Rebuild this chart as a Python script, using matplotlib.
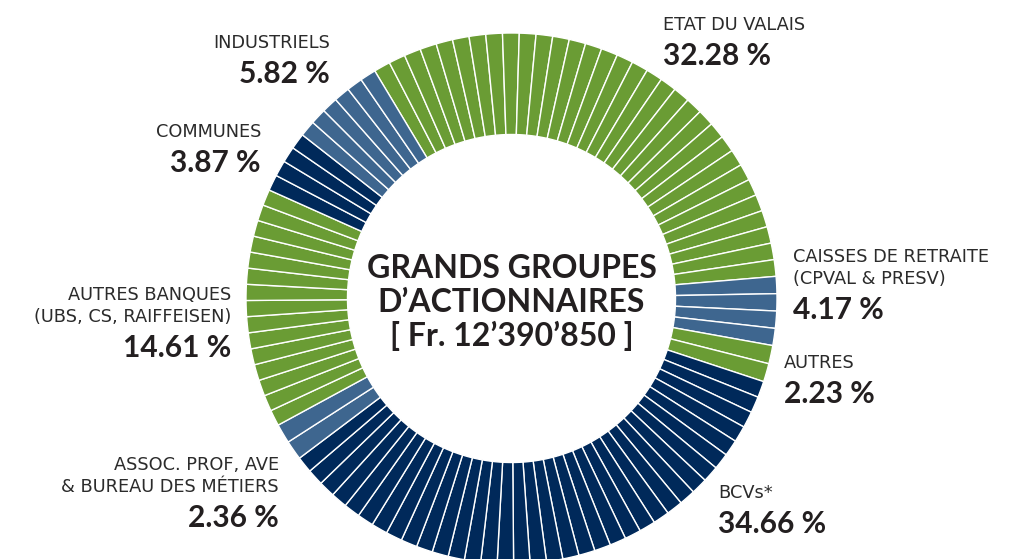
import matplotlib
matplotlib.use("Agg")
import matplotlib.pyplot as plt

# shareholder groups, clockwise from the upper left
groups = ["ETAT DU VALAIS", "CAISSES DE RETRAITE\n(CPVAL & PRESV)", "AUTRES",
          "BCVs*", "ASSOC. PROF, AVE\n& BUREAU DES MÉTIERS",
          "AUTRES BANQUES\n(UBS, CS, RAIFFEISEN)", "COMMUNES", "INDUSTRIELS"]
shares = [32.28, 4.17, 2.23, 34.66, 2.36, 14.61, 3.87, 5.82]

GREEN = "#6a9c34"
STEEL = "#3e668f"
NAVY = "#00295a"
colors = [GREEN, STEEL, GREEN, NAVY, STEEL, GREEN, NAVY, STEEL]

# label anchor (x, baseline of first line) in pixels from top-left, and alignment
label_pos = [(663, 30, "left"), (793, 262, "left"), (784, 368, "left"),
             (718, 498, "left"), (279, 470, "right"), (231, 300, "right"),
             (261, 137, "right"), (330, 48, "right")]

W, H = 1011, 559
TXT = "#231f20"

fig = plt.figure(figsize=(W / 100, H / 100), dpi=100)
ax = fig.add_axes([0, 0, 1, 1])

# every group is cut into ~1 % slices
sizes, cols = [], []
for v, c in zip(shares, colors):
    n = max(1, round(v))
    sizes += [v / n] * n
    cols += [c] * n

R_OUT, R_IN = 265.5, 164
cx, cy = 511.5, H - 298.5
ax.pie(sizes, colors=cols, startangle=121, counterclock=False,
       center=(cx, cy), radius=R_OUT,
       wedgeprops=dict(width=R_OUT - R_IN, edgecolor="white", linewidth=1.0))

ax.set_xlim(0, W)
ax.set_ylim(0, H)
ax.set_aspect("equal")
ax.axis("off")

for name, v, (x, yb, ha) in zip(groups, shares, label_pos):
    lines = name.split("\n")
    for i, line in enumerate(lines):
        ax.text(x, H - (yb + 22 * i), line, ha=ha, va="baseline",
                fontsize=12.8, color="#2b2b2b", family="DejaVu Sans")
    ynum = yb + 22 * (len(lines) - 1) + 35
    ax.text(x, H - ynum, f"{v:.2f} %", ha=ha, va="baseline",
            fontsize=21.5, fontweight="bold", color=TXT, family="Lato")

center_lines = ["GRANDS GROUPES", "D’ACTIONNAIRES", "[ Fr. 12’390’850 ]"]
for i, line in enumerate(center_lines):
    ax.text(cx, H - (278 + 34 * i), line, ha="center", va="baseline",
            fontsize=23, fontweight="bold", color=TXT, family="Lato")

fig.savefig("out.png", dpi=100, facecolor="white")
